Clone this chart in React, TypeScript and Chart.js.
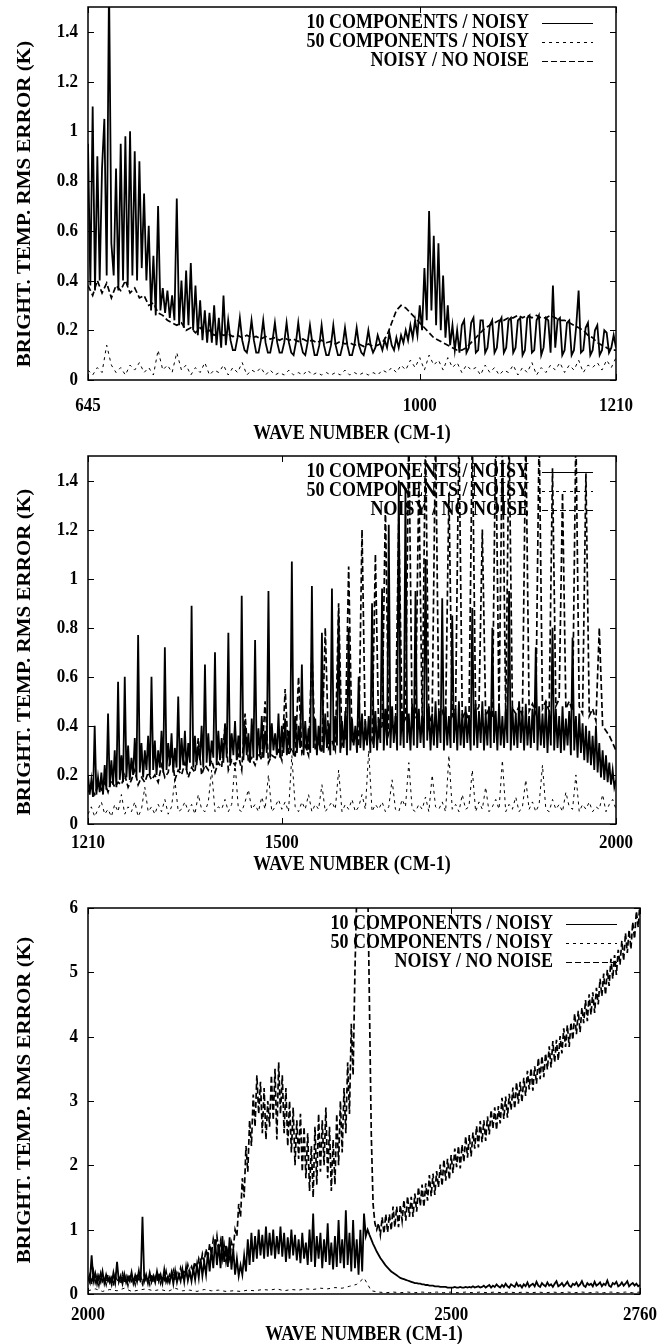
import React, { useEffect, useRef } from "react";
import { Chart, registerables } from "chart.js";
Chart.register(...registerables);

const SERIES_LABELS = ["10 COMPONENTS / NOISY", "50 COMPONENTS / NOISY", "NOISY / NO NOISE"];
const X_TITLE = "WAVE NUMBER (CM-1)";
const Y_TITLE = "BRIGHT. TEMP. RMS ERROR (K)";

// ---------- Panel 1 (645-1210) ----------
const P1_X_RANGE = [645, 1210];
const P1_X_TICKS = [645, 1000, 1210];
const P1_Y_TICKS = [0, 0.2, 0.4, 0.6, 0.8, 1, 1.2, 1.4];
const P1_Y_MAX = 1.5;
// every 2.5 cm-1
const P1_TEN = [
  .95, .38, 1.10, .36, .90, .40, .85, 1.05, .42, 1.60, .55, .42, .85, .36, .95, .40, .98, .38, 1.00, .42,
  .92, .40, .88, .45, .75, .40, .62, .28, .50, .26, .70, .28, .37, .27, .36, .25, .34, .24, .73, .22,
  .40, .21, .44, .22, .47, .20, .38, .18, .32, .16, .28, .15, .27, .15, .30, .14, .25, .13, .34, .14,
  .24, .16, .12, .12, .17, .25, .16, .12, .11, .16, .24, .16, .11, .11, .16, .24, .15, .11, .11, .16,
  .23, .15, .11, .11, .15, .23, .15, .11, .10, .15, .23, .15, .11, .10, .15, .22, .15, .10, .10, .14,
  .22, .14, .10, .10, .14, .22, .14, .10, .10, .14, .21, .14, .10, .10, .14, .21, .14, .11, .10, .14,
  .20, .14, .11, .13, .18, .15, .12, .16, .13, .19, .14, .12, .17, .13, .18, .15, .20, .16, .22, .17,
  .24, .18, .30, .20, .45, .24, .68, .28, .58, .22, .55, .20, .42, .17, .30, .14, .22, .12, .20, .11,
  .22, .24, .11, .13, .23, .25, .11, .12, .24, .24, .11, .13, .22, .24, .11, .13, .23, .25, .11, .13,
  .24, .25, .11, .13, .24, .25, .10, .12, .25, .26, .11, .12, .24, .26, .10, .13, .25, .24, .11, .38,
  .13, .24, .25, .10, .12, .23, .24, .10, .12, .22, .36, .11, .12, .21, .23, .10, .12, .20, .22, .10,
  .12, .20, .19, .11, .13, .18, .13,
];
// every 5 cm-1
const P1_FIFTY = [
  .04, .02, .05, .03, .14, .06, .03, .05, .02, .06,
  .04, .07, .03, .05, .02, .12, .04, .06, .03, .11,
  .04, .06, .02, .05, .03, .07, .02, .04, .03, .06,
  .02, .05, .03, .07, .02, .04, .03, .05, .02, .04,
  .02, .03, .02, .04, .02, .03, .02, .04, .02, .03,
  .02, .03, .02, .03, .02, .04, .02, .03, .02, .03,
  .02, .03, .02, .04, .03, .05, .03, .06, .04, .08,
  .05, .09, .04, .10, .06, .08, .04, .09, .05, .07,
  .03, .06, .04, .05, .02, .06, .03, .05, .02, .04,
  .03, .06, .02, .05, .03, .07, .02, .05, .03, .06,
  .04, .07, .03, .06, .04, .08, .03, .06, .05, .07,
  .04, .08, .05, .09,
];
// every 5 cm-1
const P1_NOISE = [
  .38, .34, .40, .35, .39, .33, .38, .36, .40, .35,
  .37, .33, .34, .30, .31, .27, .26, .24, .23, .22,
  .23, .20, .21, .19, .21, .19, .20, .18, .19, .18,
  .185, .175, .18, .17, .18, .17, .175, .165, .175, .165,
  .17, .16, .17, .16, .165, .155, .165, .155, .16, .15,
  .16, .15, .155, .145, .155, .145, .15, .14, .145, .135,
  .145, .135, .14, .15, .18, .23, .28, .30, .29, .27,
  .25, .23, .21, .19, .17, .16, .15, .14, .13, .12,
  .12, .13, .15, .17, .19, .21, .22, .23, .24, .24,
  .25, .25, .26, .25, .26, .25, .26, .25, .25, .26,
  .25, .24, .24, .23, .22, .21, .20, .18, .17, .15,
  .14, .13, .12, .12,
];

// ---------- Panel 2 (1210-2000) ----------
const P2_X_RANGE = [1210, 2000];
const P2_X_TICKS = [1210, 1500, 2000];
const P2_Y_TICKS = [0, 0.2, 0.4, 0.6, 0.8, 1, 1.2, 1.4];
const P2_Y_MAX = 1.5;
// every 2.5 cm-1
const P2_TEN = [
  .20, .12, .18, .11, .40, .12, .19, .13, .21, .12, .24, .14, .45, .15, .26, .16, .30, .15, .58, .18,
  .28, .17, .60, .19, .32, .18, .27, .20, .35, .19, .77, .21, .33, .19, .30, .22, .36, .20, .60, .22,
  .34, .20, .30, .23, .38, .21, .72, .22, .33, .24, .37, .21, .31, .23, .52, .22, .35, .24, .38, .22,
  .33, .25, .89, .23, .36, .24, .32, .26, .40, .23, .65, .25, .37, .24, .34, .27, .70, .24, .38, .26,
  .35, .25, .41, .27, .78, .25, .37, .28, .42, .26, .36, .27, .93, .26, .40, .28, .37, .25, .43, .27,
  .75, .26, .39, .28, .44, .27, .38, .29, .95, .27, .41, .30, .37, .28, .45, .27, .40, .29, .43, .28,
  .38, .30, 1.07, .28, .44, .29, .40, .31, .65, .28, .42, .30, .39, .29, .97, .31, .43, .28, .40, .30,
  .78, .29, .45, .31, .41, .28, .96, .30, .44, .32, .85, .29, .42, .31, .46, .28, .80, .30, .43, .32,
  .40, .29, .60, .31, .45, .30, .42, .32, .44, .29, .90, .31, .46, .30, .43, .33, .96, .30, .47, .32,
  1.22, .31, .48, .33, .44, .30, 1.40, .32, .46, .31, 1.37, .33, .45, .30, .49, .32, .95, .31, .47, .33,
  .44, .31, 1.08, .34, .48, .30, .45, .32, .50, .31, .46, .33, .92, .30, .48, .32, .44, .31, .85, .33,
  .47, .30, .50, .32, .45, .31, .48, .33, .44, .30, .88, .32, .49, .31, .46, .33, .50, .30, .45, .32,
  .48, .31, .80, .33, .46, .30, .49, .32, .44, .31, .47, .33, .95, .30, .48, .32, .45, .31, .50, .33,
  .46, .30, .49, .32, .44, .31, .47, .33, .72, .30, .48, .32, .45, .31, .50, .29, .46, .32, .80, .30,
  .47, .31, .44, .29, .48, .30, .43, .32, .46, .28, .76, .30, .44, .27, .45, .29, .41, .26, .40, .25,
  .38, .24, .36, .22, .40, .21, .33, .19, .30, .18, .28, .17, .25, .16, .22, .15, .18,
];
// every 5 cm-1
const P2_FIFTY = [
  .04, .07, .03, .06, .09, .04, .06, .03, .08, .05,
  .12, .04, .07, .05, .09, .03, .06, .15, .05, .07,
  .04, .08, .05, .10, .04, .07, .18, .05, .06, .09,
  .05, .08, .04, .12, .06, .05, .09, .22, .05, .07,
  .06, .10, .05, .08, .25, .06, .05, .09, .14, .06,
  .08, .05, .11, .06, .20, .05, .07, .10, .06, .09,
  .05, .28, .07, .05, .09, .06, .12, .05, .08, .06,
  .16, .05, .07, .09, .06, .22, .05, .08, .06, .10,
  .05, .07, .12, .06, .30, .05, .08, .06, .09, .05,
  .07, .18, .06, .05, .10, .07, .25, .06, .05, .08,
  .06, .11, .05, .20, .07, .06, .09, .05, .28, .06,
  .08, .05, .12, .06, .07, .22, .05, .09, .06, .15,
  .05, .07, .10, .06, .26, .05, .08, .06, .11, .05,
  .07, .18, .06, .09, .05, .08, .24, .06, .05, .10,
  .06, .08, .05, .13, .07, .06, .20, .05, .08, .06,
  .09, .05, .07, .06, .12, .05, .08, .10, .06,
];
// every 5 cm-1
const P2_NOISE = [
  .13, .15, .12, .16, .14, .17, .13, .18, .15, .17,
  .16, .20, .15, .18, .22, .16, .19, .17, .21, .18,
  .20, .17, .24, .19, .21, .30, .18, .22, .20, .25,
  .19, .23, .21, .35, .20, .24, .22, .26, .21, .25,
  .23, .40, .22, .26, .24, .28, .22, .45, .25, .27,
  .24, .29, .26, .50, .25, .28, .27, .30, .26, .55,
  .28, .31, .27, .60, .29, .32, .28, .70, .30, .33,
  .29, .80, .31, .34, .30, .90, .32, .35, 1.05, .33,
  .36, .32, 1.20, .35, .38, .34, 1.10, .36, .40, 1.30,
  .37, .42, .38, 1.25, .40, .43, 1.60, .41, .44, 1.40,
  .42, 1.60, .40, .45, 1.60, .43, .46, .42, 1.35, .44,
  .47, 1.60, .43, .46, .42, 1.60, .45, .48, 1.20, .44,
  .47, .43, 1.60, .46, 1.60, .44, 1.60, .47, .45, .48,
  .44, 1.60, .46, .49, .45, 1.60, .47, .50, .46, 1.45,
  .48, .51, 1.35, .47, .50, .46, 1.60, .48, .45, 1.43,
  .44, .47, .42, .80, .40, .38, .36, .33, .30,
];

// ---------- Panel 3 (2000-2760) ----------
const P3_X_RANGE = [2000, 2760];
const P3_X_TICKS = [2000, 2500, 2760];
const P3_Y_TICKS = [0, 1, 2, 3, 4, 5, 6];
const P3_Y_MAX = 6;
// every 2.5 cm-1
const P3_TEN = [
  .25, .18, .60, .20, .32, .16, .28, .19, .35, .17, .30, .20, .26, .15, .33, .18, .50, .19, .28, .16,
  .31, .18, .27, .20, .34, .17, .29, .19, .36, .18, 1.20, .20, .30, .17, .33, .19, .28, .18, .35, .20,
  .30, .17, .38, .19, .27, .18, .33, .16, .36, .18, .30, .20, .38, .19, .42, .21, .35, .20, .40, .22,
  .45, .25, .55, .28, .50, .30, .65, .35, .70, .40, .85, .45, .78, .40, .90, .50, .75, .42, .88, .38,
  .70, .30, .55, .28, .45, .30, .60, .35, .85, .45, .95, .50, .90, .55, 1.00, .60, .92, .55, 1.05, .58,
  .95, .60, 1.00, .55, .90, .62, 1.05, .58, .95, .50, .88, .55, 1.00, .60, .92, .52, .85, .48, .95, .55,
  .80, .45, 1.00, .50, 1.25, .42, .90, .55, .95, .40, .85, .50, 1.10, .45, .80, .38, .90, .42, 1.15, .48,
  .85, .40, 1.30, .45, .95, .35, 1.15, .40, .85, .30, 1.00, .35, 1.25, .90, 1.00, .92, .85, .78, .72, .66,
  .61, .56, .52, .48, .44, .41, .38, .35, .33, .31, .29, .27, .25, .24, .23, .22, .21, .20, .19, .18,
  .17, .17, .16, .16, .15, .15, .14, .14, .13, .13, .13, .12, .12, .12, .11, .11, .11, .11, .10, .10,
  .10, .10, .11, .10, .10, .11, .10, .10, .11, .10, .11, .10, .12, .10, .11, .12, .10, .11, .13, .10,
  .12, .14, .10, .13, .11, .15, .12, .10, .14, .11, .16, .12, .10, .15, .13, .11, .17, .12, .14, .10,
  .15, .12, .18, .11, .14, .16, .12, .19, .13, .11, .17, .14, .12, .18, .13, .15, .11, .16, .20, .12,
  .14, .17, .12, .15, .19, .13, .11, .16, .14, .18, .12, .15, .20, .13, .11, .17, .14, .16, .12, .19,
  .13, .15, .18, .12, .16, .14, .21, .13, .11, .17, .15, .19, .12, .14, .18, .13, .16, .20, .12, .15,
  .17, .13, .16, .12, .14,
];
// every 10 cm-1
const P3_FIFTY = [
  .05, .08, .04, .07, .05, .09, .04, .06, .08, .05,
  .07, .04, .09, .05, .06, .04, .07, .05, .06, .04,
  .05, .04, .06, .05, .07, .06, .08, .05, .07, .06,
  .08, .07, .09, .08, .10, .09, .12, .15, .25, .05,
  .03, .02, .03, .02, .03, .02, .03, .02, .03, .02,
  .03, .02, .03, .02, .03, .02, .03, .02, .03, .02,
  .03, .02, .03, .02, .03, .02, .03, .02, .03, .02,
  .03, .02, .03, .02, .03, .02, .03,
];
// every 2.5 cm-1
const P3_NOISE = [
  .22, .30, .15, .35, .18, .28, .14, .32, .20, .26, .15, .30, .18, .25, .13, .29, .19, .24, .16, .31,
  .18, .27, .14, .30, .20, .25, .15, .32, .19, .26, .16, .29, .21, .24, .15, .31, .18, .27, .20, .33,
  .17, .28, .22, .35, .19, .30, .24, .36, .21, .33, .26, .40, .28, .38, .30, .45, .32, .42, .35, .50,
  .40, .55, .45, .62, .50, .70, .55, .78, .62, .85, .70, .90, .65, .82, .55, .75, .50, .68, .55, .80,
  .70, 1.00, .90, 1.40, 1.20, 1.80, 1.50, 2.30, 1.90, 2.70, 2.30, 3.10, 2.60, 3.40, 2.80, 3.30, 2.50, 3.20, 2.40, 3.00,
  2.60, 3.40, 2.70, 3.50, 2.40, 3.60, 2.80, 3.40, 2.50, 3.20, 2.30, 3.00, 2.20, 2.90, 2.00, 2.70, 2.10, 2.80, 1.90, 2.60,
  1.80, 2.50, 1.60, 2.30, 1.50, 2.60, 1.70, 2.80, 1.90, 2.70, 2.00, 2.90, 1.80, 2.60, 1.60, 2.40, 1.70, 2.80, 2.00, 3.00,
  2.20, 3.20, 2.50, 3.60, 2.80, 4.20, 3.40, 5.00, 6.20, 6.50, 6.40, 6.50, 6.50, 6.30, 6.50, 4.50, 2.50, 1.40, 1.10, 1.00,
  1.10, .92, 1.19, .94, 1.24, .96, 1.24, .99, 1.36, 1.04, 1.36, 1.04, 1.38, 1.14, 1.46, 1.14, 1.52, 1.20, 1.51, 1.20,
  1.56, 1.28, 1.66, 1.37, 1.70, 1.35, 1.72, 1.45, 1.85, 1.52, 1.87, 1.54, 1.91, 1.66, 2.01, 1.68, 2.09, 1.76, 2.10, 1.78,
  2.16, 1.88, 2.26, 1.97, 2.30, 1.95, 2.32, 2.05, 2.45, 2.12, 2.47, 2.14, 2.51, 2.26, 2.61, 2.28, 2.69, 2.36, 2.70, 2.38,
  2.76, 2.48, 2.86, 2.57, 2.90, 2.55, 2.92, 2.65, 3.05, 2.72, 3.07, 2.74, 3.11, 2.86, 3.21, 2.88, 3.29, 2.96, 3.30, 2.98,
  3.36, 3.08, 3.47, 3.18, 3.51, 3.16, 3.54, 3.27, 3.67, 3.34, 3.70, 3.37, 3.74, 3.49, 3.85, 3.52, 3.93, 3.60, 3.95, 3.63,
  4.01, 3.74, 4.13, 3.84, 4.18, 3.84, 4.22, 3.95, 4.36, 4.04, 4.40, 4.07, 4.45, 4.21, 4.57, 4.24, 4.66, 4.34, 4.69, 4.37,
  4.76, 4.50, 4.90, 4.63, 4.98, 4.65, 5.04, 4.79, 5.21, 4.90, 5.27, 4.96, 5.35, 5.12, 5.49, 5.18, 5.61, 5.30, 5.66, 5.36,
  5.78, 5.52, 5.95, 5.70, 6.10,
];

// ---------- layout (pixels, not data) ----------
const CANVAS_W = 661;
const CANVAS_H = 448;
const SY = 1.17; // vertical stretch of the lettering
const FONT = '"Liberation Serif", "Times New Roman", serif';

type Panel = {
  xRange: number[]; xTicks: number[]; yTicks: number[]; yMax: number;
  ten: number[]; fifty: number[]; noise: number[];
  area: { left: number; right: number; top: number; bottom: number };
  tickOff: number; titleOff: number;
};

const PANELS: Panel[] = [
  { xRange: P1_X_RANGE, xTicks: P1_X_TICKS, yTicks: P1_Y_TICKS, yMax: P1_Y_MAX,
    ten: P1_TEN, fifty: P1_FIFTY, noise: P1_NOISE,
    area: { left: 88, right: 616, top: 7, bottom: 380 }, tickOff: 26, titleOff: 54 },
  { xRange: P2_X_RANGE, xTicks: P2_X_TICKS, yTicks: P2_Y_TICKS, yMax: P2_Y_MAX,
    ten: P2_TEN, fifty: P2_FIFTY, noise: P2_NOISE,
    area: { left: 88, right: 616, top: 8, bottom: 376 }, tickOff: 19, titleOff: 41 },
  { xRange: P3_X_RANGE, xTicks: P3_X_TICKS, yTicks: P3_Y_TICKS, yMax: P3_Y_MAX,
    ten: P3_TEN, fifty: P3_FIFTY, noise: P3_NOISE,
    area: { left: 88, right: 640, top: 12, bottom: 398 }, tickOff: 21, titleOff: 41 },
];

function toPoints(values: number[], range: number[]) {
  const step = (range[1] - range[0]) / (values.length - 1);
  return values.map((v, i) => ({ x: range[0] + i * step, y: v }));
}

function drawText(ctx: CanvasRenderingContext2D, text: string, x: number, y: number,
  align: CanvasTextAlign, size: number, rotate = false) {
  ctx.save();
  ctx.translate(x, y);
  if (rotate) { ctx.rotate(-Math.PI / 2); ctx.scale(SY, 1); } else { ctx.scale(1, SY); }
  ctx.font = `bold ${size}px ${FONT}`;
  ctx.textAlign = align;
  ctx.textBaseline = "middle";
  ctx.fillStyle = "#000";
  ctx.fillText(text, 0, 0);
  ctx.restore();
}

const DASHES = [[], [3, 4], [6, 3]];
const WIDTHS = [1.8, 1, 1.7];

function makeDecor(p: Panel) {
  return {
    id: "decor",
    beforeDatasetsDraw(chart: any) {
      const ctx: CanvasRenderingContext2D = chart.ctx;
      const ca = chart.chartArea;
      const rowsY = [16, 35, 54];
      SERIES_LABELS.forEach((lab, i) => {
        const y = ca.top + rowsY[i];
        drawText(ctx, lab, ca.right - 87, y, "right", 18);
        ctx.save();
        ctx.strokeStyle = "#000";
        ctx.lineWidth = 1;
        ctx.setLineDash(DASHES[i]);
        ctx.beginPath();
        ctx.moveTo(ca.right - 74, Math.round(y) + 0.5);
        ctx.lineTo(ca.right - 23, Math.round(y) + 0.5);
        ctx.stroke();
        ctx.restore();
      });
    },
    afterDatasetsDraw(chart: any) {
      const ctx: CanvasRenderingContext2D = chart.ctx;
      const ca = chart.chartArea;
      const xs = chart.scales.x;
      const ys = chart.scales.y;
      ctx.save();
      ctx.strokeStyle = "#000";
      ctx.setLineDash([]);
      ctx.lineWidth = 1.5;
      ctx.strokeRect(ca.left, ca.top, ca.right - ca.left, ca.bottom - ca.top);
      ctx.lineWidth = 1;
      const tl = 6;
      ctx.beginPath();
      p.yTicks.forEach((v) => {
        const y = Math.round(ys.getPixelForValue(v)) + 0.5;
        ctx.moveTo(ca.left, y); ctx.lineTo(ca.left + tl, y);
        ctx.moveTo(ca.right, y); ctx.lineTo(ca.right - tl, y);
      });
      p.xTicks.forEach((v) => {
        const x = Math.round(xs.getPixelForValue(v)) + 0.5;
        ctx.moveTo(x, ca.bottom); ctx.lineTo(x, ca.bottom - tl);
        ctx.moveTo(x, ca.top); ctx.lineTo(x, ca.top + tl);
      });
      ctx.stroke();
      ctx.restore();
      p.yTicks.forEach((v) => {
        drawText(ctx, String(v), ca.left - 10, ys.getPixelForValue(v), "right", 17);
      });
      p.xTicks.forEach((v) => {
        drawText(ctx, String(v), xs.getPixelForValue(v), ca.bottom + p.tickOff, "center", 17);
      });
      drawText(ctx, X_TITLE, (ca.left + ca.right) / 2, ca.bottom + p.titleOff, "center", 18);
      drawText(ctx, Y_TITLE, 25, 204, "center", 18, true);
    },
  };
}

function PanelChart({ panel, top }: { panel: Panel; top: number }) {
  const ref = useRef<HTMLCanvasElement | null>(null);
  useEffect(() => {
    const canvas = ref.current;
    if (!canvas) return;
    const a = panel.area;
    const line = (vals: number[], i: number) => ({
      label: SERIES_LABELS[i], data: toPoints(vals, panel.xRange), borderColor: "#000",
      borderWidth: WIDTHS[i], pointRadius: 0, tension: 0, borderDash: DASHES[i],
    });
    const chart = new Chart(canvas, {
      type: "line",
      data: { datasets: [line(panel.ten, 0), line(panel.fifty, 1), line(panel.noise, 2)] },
      options: {
        animation: false,
        responsive: false,
        devicePixelRatio: 1,
        parsing: false,
        normalized: true,
        layout: { padding: { left: a.left, right: CANVAS_W - a.right, top: a.top, bottom: CANVAS_H - a.bottom } },
        scales: {
          x: { type: "linear", min: panel.xRange[0], max: panel.xRange[1], display: false },
          y: { type: "linear", min: 0, max: panel.yMax, display: false },
        },
        plugins: { legend: { display: false }, tooltip: { enabled: false } },
        events: [],
      },
      plugins: [makeDecor(panel)],
    } as any);
    return () => chart.destroy();
  }, [panel]);
  return (
    <canvas ref={ref} width={CANVAS_W} height={CANVAS_H}
      style={{ position: "absolute", left: 0, top, width: CANVAS_W, height: CANVAS_H }} />
  );
}

export default function App() {
  return (
    <div style={{ position: "absolute", left: 0, top: 0, width: CANVAS_W, height: 1344, background: "#fff" }}>
      {PANELS.map((p, i) => (
        <PanelChart key={i} panel={p} top={i * CANVAS_H} />
      ))}
    </div>
  );
}
